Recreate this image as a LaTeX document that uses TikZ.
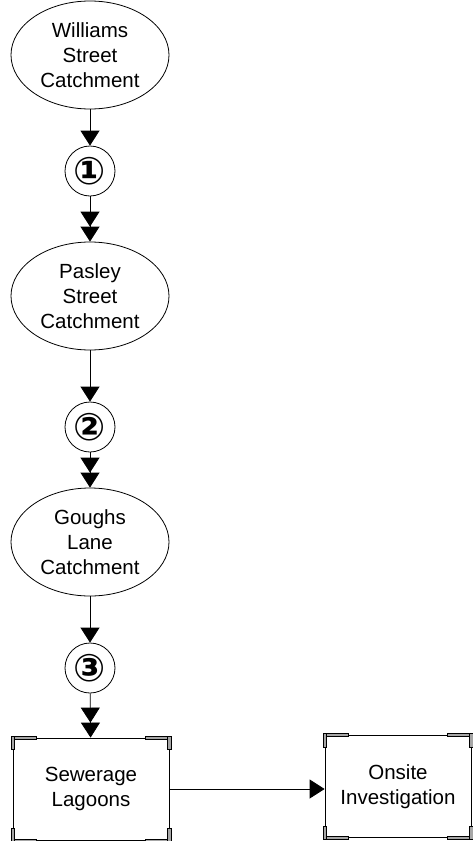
\documentclass[tikz,border=0pt]{standalone}
\usepackage{fontspec}
\setmainfont{Liberation Sans}
\newfontfamily\dvfont{DejaVu Sans}
\usetikzlibrary{shapes.geometric,arrows.meta}
\tikzset{
  lbl/.style={align=center,font=\fontsize{20.5}{25}\selectfont},
  catch/.style={ellipse,draw,line width=0.8pt,minimum width=158pt,minimum height=108pt,inner sep=0pt,lbl},
  stage/.style={circle,draw,line width=0.8pt,minimum size=50pt,inner sep=0pt,font=\fontsize{38}{38}\dvfont\bfseries},
  procbox/.style={rectangle,draw,line width=0.8pt,minimum width=156pt,minimum height=102pt,inner sep=0pt,lbl},
  onearrow/.style={line width=0.8pt,-{Triangle[length=15pt,width=19pt]}},
  twoarrow/.style={line width=0.8pt,-{Triangle[length=15pt,width=19pt,sep=0pt]Triangle[length=15pt,width=19pt]}},
  cornerbar/.style={fill=gray!70,draw=black,line width=0.4pt}
}
\newcommand\boxcorners[1]{%
  \foreach \a/\sx/\sy in {north west/1/1, north east/-1/1, south west/1/-1, south east/-1/-1}{%
    \draw[cornerbar] ([xshift={\sx*(-1pt)},yshift={\sy*(1.5pt)}]#1.\a) rectangle ([xshift={\sx*(24pt)},yshift={\sy*(-1.5pt)}]#1.\a);
    \draw[cornerbar] ([xshift={\sx*(-1.5pt)},yshift={\sy*(1.5pt)}]#1.\a) rectangle ([xshift={\sx*(2pt)},yshift={\sy*(-12pt)}]#1.\a);
  }%
}
\begin{document}
\begin{tikzpicture}[x=1pt,y=-1pt]
\useasboundingbox (0,0) rectangle (472,841);
\node[catch] (wil) at (90,55) {Williams\\Street\\Catchment};
\node[stage] (s1) at (90,171) {①};
\node[catch] (pas) at (90,296) {Pasley\\Street\\Catchment};
\node[stage] (s2) at (90,427) {②};
\node[catch] (gou) at (90,542) {Goughs\\Lane\\Catchment};
\node[stage] (s3) at (90,668) {③};
\node[procbox] (sew) at (91,789) {Sewerage\\Lagoons};
\node[procbox,minimum width=146pt] (ons) at (398,786.5) {Onsite\\Investigation};
\boxcorners{sew}
\boxcorners{ons}
\draw[onearrow] (wil) -- (s1);
\draw[twoarrow] (s1) -- (pas);
\draw[onearrow] (pas) -- (s2);
\draw[twoarrow] (s2) -- (gou);
\draw[onearrow] (gou) -- (s3);
\draw[twoarrow] (s3) -- (sew);
\draw[onearrow] (sew.east) -- (sew.east -| ons.west);
\end{tikzpicture}
\end{document}
